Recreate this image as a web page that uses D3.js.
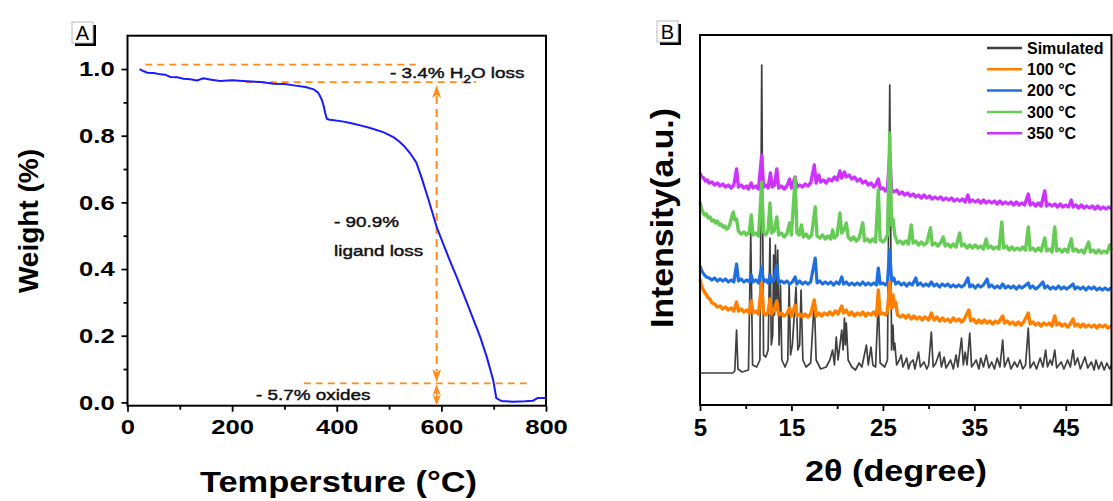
<!DOCTYPE html>
<html>
<head>
<meta charset="utf-8">
<script src="https://cdn.jsdelivr.net/npm/d3@7"></script>
<style>
body { margin: 0; background: #fff; }
text { font-family: Arial, "Liberation Sans", sans-serif; }
</style>
</head>
<body>
<svg id="chart" width="1113" height="501"></svg>
<script>
// ---- panel A : TGA ----
var tgaTemp = [23, 30, 38, 50, 63, 72, 82, 95, 107, 120, 133, 145, 160, 177, 200, 228, 255, 279, 300, 318, 340, 356, 364, 368, 372, 375, 378, 381, 386, 391, 410, 426, 445, 464, 490, 509, 520, 528, 540, 552, 562, 575, 591, 603, 616, 629, 642, 658, 674, 687, 699, 705, 715, 737, 760, 775, 784, 800];
var tgaWeight = [1.0, 0.994, 0.989, 0.988, 0.984, 0.983, 0.976, 0.975, 0.971, 0.969, 0.966, 0.972, 0.968, 0.964, 0.966, 0.963, 0.961, 0.956, 0.955, 0.951, 0.946, 0.939, 0.93, 0.919, 0.905, 0.889, 0.868, 0.851, 0.848, 0.847, 0.843, 0.838, 0.831, 0.823, 0.81, 0.795, 0.782, 0.77, 0.748, 0.72, 0.675, 0.61, 0.526, 0.478, 0.426, 0.377, 0.326, 0.262, 0.197, 0.135, 0.067, 0.013, 0.004, 0.002, 0.003, 0.005, 0.013, 0.013];
var tempTicks = [0, 200, 400, 600, 800];
var tempMinor = [100, 300, 500, 700];
var weightTicks = [0.0, 0.2, 0.4, 0.6, 0.8, 1.0];
var weightMinor = [0.1, 0.3, 0.5, 0.7, 0.9];
// annotation levels (weight) and arrow temperature
var lossLevels = [1.013, 0.961, 0.057];
var lossFrom = [34, 226, 337];
var lossTo = [551, 666, 771];
var arrowTemp = 591;

// ---- panel B : XRD ----
var thetaTicks = [5, 15, 25, 35, 45];
var thetaMinor = [10, 20, 30, 40];
var xrdNames = ["Simulated", "100 °C", "200 °C", "300 °C", "350 °C"];

var simulated = [[5,32],[8.6,32],[8.8,34],[9.0,75],[9.15,36],[9.6,33],[10.3,35],[10.55,172],[10.75,40],[11.2,38],[11.55,45],[11.75,340],[11.95,50],[12.2,48],[12.45,55],[12.65,167],[12.8,60],[12.95,70],[13.05,150],[13.15,90],[13.25,160],[13.35,95],[13.5,155],[13.65,60],[13.8,120],[13.95,45],[14.3,38],[14.6,45],[14.75,122],[14.9,50],[15.1,60],[15.5,118],[15.7,55],[15.9,60],[16.05,115],[16.25,45],[16.6,38],[17.1,42],[17.5,105],[17.7,45],[18.2,36],[18.8,38],[19.2,45],[19.5,55],[19.7,40],[19.9,68],[20.1,45],[20.3,60],[20.5,75],[20.65,55],[20.8,87],[20.9,60],[21.0,82],[21.2,45],[21.6,38],[22.0,35],[22.4,42],[22.7,38],[23.2,60],[23.4,40],[23.7,58],[23.9,40],[24.2,38],[24.5,105],[24.7,42],[25.2,38],[25.5,45],[25.75,320],[25.95,55],[26.1,80],[26.2,55],[26.3,62],[26.5,40],[26.8,45],[27.0,50],[27.2,38],[27.6,47],[27.8,36],[28.0,42],[28.3,45],[28.5,36],[28.9,53],[29.1,38],[29.5,43],[29.8,36],[30.0,40],[30.3,73],[30.5,38],[30.8,42],[31.2,53],[31.4,38],[31.7,48],[31.9,37],[32.1,40],[32.4,45],[32.7,36],[33.0,50],[33.2,38],[33.6,67],[33.8,40],[34.0,53],[34.2,40],[34.5,72],[34.7,38],[35.0,42],[35.2,45],[35.5,36],[35.7,47],[36.0,38],[36.3,50],[36.6,37],[36.9,43],[37.2,36],[37.5,47],[37.8,38],[38.1,65],[38.3,38],[38.7,47],[39.0,36],[39.4,43],[39.7,38],[40.0,45],[40.3,36],[40.6,40],[40.9,77],[41.1,37],[41.5,43],[41.8,36],[42.2,47],[42.5,38],[42.8,55],[43.0,38],[43.3,45],[43.5,40],[43.8,55],[44.0,37],[44.5,43],[44.8,36],[45.2,45],[45.5,38],[45.8,55],[46.0,40],[46.3,47],[46.6,36],[47.1,48],[47.4,37],[47.8,43],[48.1,35],[48.3,45],[48.6,36],[48.9,43],[49.2,35],[49.5,42],[49.8,36],[50,40]];

var xrd100 = [[5,126],[5.15,120],[5.3,116],[5.5,113],[5.7,110],[5.9,107],[6.1,106],[6.3,102],[6.6,101],[6.9,98],[7.2,99],[7.5,96],[7.8,98],[8.1,95],[8.4,97],[8.7,94],[9.0,103],[9.2,94],[9.5,96],[9.8,93],[10.1,95],[10.4,92],[10.6,104],[10.8,92],[11.1,94],[11.4,91],[11.75,122],[11.95,92],[12.2,90],[12.45,93],[12.65,106],[12.85,91],[13.1,95],[13.4,104],[13.6,90],[13.9,92],[14.2,89],[14.5,91],[14.8,97],[15.0,89],[15.4,100],[15.6,89],[15.9,91],[16.2,88],[16.5,91],[16.8,88],[17.1,91],[17.5,105],[17.7,89],[18.0,92],[18.3,89],[18.6,92],[18.9,90],[19.2,93],[19.5,90],[19.8,94],[20.1,91],[20.5,99],[20.7,92],[21.0,95],[21.3,90],[21.6,93],[21.9,89],[22.2,92],[22.5,90],[22.8,93],[23.1,89],[23.4,92],[23.7,90],[24.0,93],[24.3,89],[24.5,115],[24.7,91],[25.0,92],[25.3,90],[25.5,94],[25.75,123],[25.95,97],[26.1,110],[26.25,99],[26.4,103],[26.6,90],[26.9,88],[27.2,90],[27.5,87],[27.8,90],[28.1,86],[28.4,89],[28.7,86],[29.0,88],[29.3,85],[29.6,88],[30.0,85],[30.3,92],[30.6,85],[30.9,88],[31.2,84],[31.5,87],[31.8,84],[32.1,86],[32.4,83],[32.7,87],[33.0,84],[33.3,86],[33.6,83],[33.9,86],[34.4,95],[34.6,84],[34.9,86],[35.2,82],[35.5,85],[35.8,82],[36.1,85],[36.4,82],[36.7,84],[37.0,81],[37.3,84],[37.6,82],[38.1,89],[38.3,82],[38.6,84],[38.9,81],[39.2,83],[39.5,80],[39.8,83],[40.1,80],[40.4,83],[40.9,92],[41.1,81],[41.4,83],[41.7,80],[42.0,82],[42.3,79],[42.6,82],[42.9,80],[43.2,82],[43.5,79],[43.8,89],[44.0,80],[44.3,82],[44.6,79],[44.9,81],[45.2,78],[45.5,81],[45.8,86],[46.0,79],[46.3,81],[46.6,78],[46.9,81],[47.2,78],[47.5,80],[47.8,78],[48.1,80],[48.4,77],[48.7,80],[49.0,78],[49.3,80],[49.6,77],[50,79]];

var xrd200 = [[5,139],[5.2,134],[5.4,131],[5.7,128],[6.0,127],[6.3,125],[6.6,127],[6.9,124],[7.2,126],[7.5,124],[7.8,126],[8.1,123],[8.4,125],[8.7,123],[9.0,141],[9.2,124],[9.5,126],[9.8,123],[10.1,125],[10.4,123],[10.6,130],[10.8,123],[11.1,125],[11.4,122],[11.75,138],[11.95,123],[12.2,125],[12.45,122],[12.65,130],[12.85,123],[13.1,125],[13.4,140],[13.6,122],[13.9,124],[14.2,122],[14.5,124],[14.8,121],[15.1,123],[15.4,128],[15.6,121],[15.9,124],[16.2,121],[16.5,123],[16.8,121],[17.1,123],[17.6,147],[17.8,122],[18.1,124],[18.4,121],[18.7,123],[19.0,121],[19.3,123],[19.6,120],[19.9,123],[20.2,121],[20.5,128],[20.7,121],[21.0,123],[21.3,120],[21.6,122],[21.9,120],[22.2,122],[22.5,120],[22.8,123],[23.1,120],[23.4,122],[23.7,120],[24.0,122],[24.3,120],[24.5,137],[24.7,121],[25.0,122],[25.3,120],[25.5,123],[25.75,155],[25.95,124],[26.2,127],[26.4,121],[26.7,123],[27.0,120],[27.3,122],[27.6,119],[27.9,122],[28.2,120],[28.6,127],[28.8,120],[29.1,122],[29.4,119],[29.7,121],[30.0,119],[30.3,123],[30.6,119],[30.9,121],[31.2,118],[31.5,121],[31.8,119],[32.1,121],[32.4,118],[32.7,120],[33.0,118],[33.3,120],[33.6,118],[33.9,120],[34.3,127],[34.5,118],[34.8,120],[35.1,117],[35.4,120],[35.7,118],[36.0,120],[36.4,126],[36.6,118],[36.9,120],[37.2,117],[37.5,119],[37.8,117],[38.1,121],[38.4,117],[38.7,119],[39.0,117],[39.3,119],[39.6,116],[39.9,119],[40.2,117],[40.5,119],[40.9,122],[41.1,117],[41.4,119],[41.7,116],[42.0,118],[42.5,123],[42.7,117],[43.0,119],[43.3,116],[43.6,118],[43.9,116],[44.2,119],[44.5,116],[44.8,118],[45.1,116],[45.4,118],[45.8,121],[46.0,116],[46.3,118],[46.6,116],[46.9,118],[47.2,115],[47.5,118],[47.8,116],[48.1,118],[48.4,115],[48.7,117],[49.0,115],[49.3,117],[49.6,115],[50,117]];

var xrd300 = [[5,203],[5.15,197],[5.3,193],[5.5,190],[5.7,191],[5.9,187],[6.1,188],[6.3,184],[6.5,185],[6.7,182],[6.9,184],[7.1,180],[7.3,181],[7.5,178],[7.7,179],[7.9,176],[8.1,177],[8.3,182],[8.5,189],[8.65,193],[8.8,185],[9.0,186],[9.2,174],[9.5,171],[9.8,173],[10.1,170],[10.4,173],[10.6,190],[10.8,170],[11.1,172],[11.4,169],[11.75,223],[11.95,173],[12.2,170],[12.45,175],[12.65,202],[12.85,172],[13.1,174],[13.4,188],[13.6,170],[13.9,172],[14.2,168],[14.5,171],[14.8,182],[15.0,170],[15.4,227],[15.6,172],[15.85,170],[16.1,180],[16.3,168],[16.6,171],[16.9,167],[17.2,170],[17.6,198],[17.8,169],[18.1,167],[18.4,170],[18.7,166],[19.0,169],[19.3,166],[19.5,175],[19.7,167],[20.0,170],[20.3,192],[20.5,172],[20.8,176],[21.0,182],[21.2,168],[21.5,165],[21.8,168],[22.1,164],[22.4,167],[22.8,182],[23.0,164],[23.3,166],[23.6,163],[23.9,166],[24.2,163],[24.5,215],[24.7,165],[25.0,163],[25.3,166],[25.5,170],[25.75,272],[25.95,180],[26.1,186],[26.3,170],[26.6,162],[26.9,164],[27.2,161],[27.5,164],[27.8,161],[28.1,180],[28.3,162],[28.6,164],[28.9,160],[29.2,163],[29.5,160],[29.8,162],[30.2,177],[30.4,160],[30.7,162],[31.0,159],[31.3,162],[31.6,168],[31.8,159],[32.1,161],[32.4,158],[32.7,161],[33.0,158],[33.4,172],[33.6,159],[33.9,161],[34.2,157],[34.5,160],[34.8,157],[35.1,160],[35.4,157],[35.7,159],[36.0,156],[36.3,166],[36.5,157],[36.8,159],[37.1,156],[37.4,158],[37.7,156],[38.0,183],[38.2,157],[38.5,159],[38.8,155],[39.1,158],[39.4,155],[39.7,157],[40.0,155],[40.3,158],[40.6,155],[40.9,178],[41.1,155],[41.4,157],[41.7,154],[42.0,157],[42.3,154],[42.7,167],[42.9,154],[43.2,156],[43.5,153],[43.8,178],[44.0,154],[44.3,156],[44.6,153],[44.9,156],[45.2,153],[45.6,166],[45.8,154],[46.1,156],[46.4,153],[46.7,155],[47.0,152],[47.5,163],[47.7,153],[48.0,155],[48.3,152],[48.6,155],[48.9,152],[49.2,154],[49.5,152],[49.8,160],[50,155]];

var xrd350 = [[5,232],[5.2,228],[5.4,227],[5.6,224],[5.8,225],[6.0,222],[6.3,223],[6.6,220],[6.9,222],[7.2,219],[7.5,221],[7.8,218],[8.1,220],[8.4,217],[8.7,220],[9.0,236],[9.2,218],[9.5,220],[9.8,217],[10.1,219],[10.3,216],[10.6,222],[10.8,217],[11.1,219],[11.4,216],[11.75,250],[11.95,218],[12.2,220],[12.45,217],[12.7,232],[12.9,218],[13.15,220],[13.4,236],[13.6,217],[13.9,219],[14.2,216],[14.5,219],[14.8,226],[15.0,217],[15.4,228],[15.6,218],[15.9,220],[16.2,218],[16.5,221],[16.8,219],[17.1,222],[17.5,240],[17.7,222],[18.0,230],[18.2,223],[18.5,225],[18.8,222],[19.1,226],[19.4,224],[19.7,228],[20.0,225],[20.3,234],[20.5,227],[20.8,233],[21.0,228],[21.3,230],[21.6,226],[21.9,228],[22.2,224],[22.5,226],[22.8,222],[23.1,224],[23.4,220],[23.7,222],[24.0,218],[24.2,220],[24.5,226],[24.7,216],[25.0,217],[25.3,214],[25.5,216],[25.75,250],[25.95,215],[26.2,213],[26.5,215],[26.8,211],[27.1,213],[27.4,210],[27.7,212],[28.0,209],[28.3,211],[28.6,208],[28.9,210],[29.2,207],[29.5,210],[29.8,207],[30.1,209],[30.4,206],[30.7,208],[31.0,206],[31.3,208],[31.6,205],[31.9,207],[32.2,205],[32.5,207],[32.8,204],[33.1,206],[33.4,204],[33.7,206],[34.0,203],[34.3,210],[34.5,203],[34.8,205],[35.1,203],[35.4,205],[35.7,202],[36.0,205],[36.3,202],[36.6,204],[36.9,202],[37.2,204],[37.5,201],[37.8,204],[38.1,201],[38.4,203],[38.7,201],[39.0,203],[39.3,200],[39.6,203],[39.9,200],[40.2,202],[40.5,200],[40.9,211],[41.1,200],[41.4,202],[41.7,199],[42.0,202],[42.3,199],[42.7,214],[42.9,199],[43.2,201],[43.5,199],[43.8,201],[44.1,198],[44.4,201],[44.7,198],[45.0,200],[45.3,198],[45.6,205],[45.8,198],[46.1,200],[46.4,197],[46.7,200],[47.0,197],[47.3,199],[47.6,197],[47.9,199],[48.2,196],[48.5,199],[48.8,196],[49.1,198],[49.4,196],[49.7,198],[50,196]];

var xrdSeries = [simulated, xrd100, xrd200, xrd300, xrd350];
var xrdColors = ["#404040", "#ff7f00", "#1f6fe0", "#66cc55", "#cc33ff"];
var xrdWidths = [1.7, 3.4, 3.2, 3.4, 3.4];

var svg = d3.select("#chart");
var orange = "#ff8c1a";

// label box with shadow, like Origin's panel letters
function panelLabel(x, y, letter) {
    svg.append("rect").attr("x", x + 3).attr("y", y + 3).attr("width", 21).attr("height", 21).attr("fill", "#000");
    svg.append("rect").attr("x", x).attr("y", y).attr("width", 21).attr("height", 21)
        .attr("fill", "#fff").attr("stroke", "#bbb").attr("stroke-width", 1);
    svg.append("text").attr("x", x + 10.5).attr("y", y + 18).attr("text-anchor", "middle")
        .style("font-size", "20px").text(letter);
}

// ================= panel A =================
var xA = d3.scaleLinear().domain([0, 800]).range([127.5, 546]);
var yA = d3.scaleLinear().domain([-0.01, 1.1]).range([405.7, 35.7]);

var gA = svg.append("g");

// minor ticks
gA.append("g").attr("transform", "translate(0," + yA.range()[0] + ")")
    .call(d3.axisBottom(xA).tickValues(tempMinor).tickSize(4).tickFormat(""))
    .call(g => g.select(".domain").remove());
gA.append("g").attr("transform", "translate(" + xA.range()[0] + ",0)")
    .call(d3.axisLeft(yA).tickValues(weightMinor).tickSize(4).tickFormat(""))
    .call(g => g.select(".domain").remove());

// major ticks
var axA_x = gA.append("g").attr("transform", "translate(0," + yA.range()[0] + ")")
    .call(d3.axisBottom(xA).tickValues(tempTicks).tickSize(6).tickPadding(7.5));
var axA_y = gA.append("g").attr("transform", "translate(" + xA.range()[0] + ",0)")
    .call(d3.axisLeft(yA).tickValues(weightTicks).tickSize(6).tickPadding(4.5).tickFormat(d3.format(".1f")));
[axA_x, axA_y].forEach(function (ax) {
    ax.select(".domain").remove();
    ax.selectAll("text").style("font-size", "21px").style("font-weight", "bold")
        .attr("fill", "#000").attr("transform", "scale(1.22,1)");
});
gA.selectAll(".tick line").attr("stroke", "#000").attr("stroke-width", 1.8);

// frame
gA.append("rect")
    .attr("x", xA.range()[0]).attr("y", yA.range()[1])
    .attr("width", xA.range()[1] - xA.range()[0]).attr("height", yA.range()[0] - yA.range()[1])
    .attr("fill", "none").attr("stroke", "#000").attr("stroke-width", 2);

// dashed reference lines
lossLevels.forEach(function (w, i) {
    gA.append("line")
        .attr("x1", xA(lossFrom[i])).attr("x2", xA(lossTo[i]))
        .attr("y1", yA(w)).attr("y2", yA(w))
        .attr("stroke", orange).attr("stroke-width", 1.8).attr("stroke-dasharray", "7,5");
});

// vertical double arrow
var ax0 = xA(arrowTemp);
gA.append("line")
    .attr("x1", ax0).attr("x2", ax0)
    .attr("y1", yA(lossLevels[1]) + 14).attr("y2", yA(lossLevels[2]) - 12)
    .attr("stroke", orange).attr("stroke-width", 2).attr("stroke-dasharray", "8,5");
function head(x, tipY, dir, len, half) {
    gA.append("path")
        .attr("d", "M" + x + "," + tipY + "L" + (x - half) + "," + (tipY + dir * len) +
            "L" + x + "," + (tipY + dir * len * 0.75) + "L" + (x + half) + "," + (tipY + dir * len) + "Z")
        .attr("fill", orange);
}
head(ax0, yA(lossLevels[1]) + 3, 1, 13, 4.5);
head(ax0, yA(lossLevels[2]) - 1, -1, 13, 4.5);
// small arrow under the oxide line
gA.append("line").attr("x1", ax0).attr("x2", ax0)
    .attr("y1", yA(lossLevels[2]) + 6).attr("y2", yA(-0.01) - 6)
    .attr("stroke", orange).attr("stroke-width", 1.5);
head(ax0, yA(lossLevels[2]) + 1, 1, 11, 4);
head(ax0, yA(-0.01), -1, 11, 4);

// TGA curve
var lineA = d3.line().x(function (d) { return xA(d[0]); }).y(function (d) { return yA(d[1]); });
gA.append("path")
    .datum(tgaTemp.map(function (t, i) { return [t, tgaWeight[i]]; }))
    .attr("d", lineA).attr("fill", "none").attr("stroke", "#1a1aff").attr("stroke-width", 2);

// annotations
function note(x, y, str) {
    return gA.append("text").attr("transform", "translate(" + x + "," + y + ") scale(1.22,1)")
        .style("font-size", "15.5px").attr("fill", "#111")
        .attr("stroke", "#111").attr("stroke-width", 0.45).text(str);
}
var h2o = note(390, 78, "- 3.4% H");
h2o.append("tspan").attr("dy", 5).style("font-size", "11px").text("2");
h2o.append("tspan").attr("dy", -5).text("O loss");
note(334, 227, "- 90.9%");
note(334, 256, "ligand loss");
note(256, 400, "- 5.7% oxides");

// axis titles
svg.append("text").attr("x", 338.5).attr("y", 491.5).attr("text-anchor", "middle")
    .attr("textLength", 277).attr("lengthAdjust", "spacingAndGlyphs")
    .style("font-size", "29px").style("font-weight", "bold").text("Tempersture (°C)");
svg.append("text").attr("transform", "translate(38,221) rotate(-90)").attr("text-anchor", "middle")
    .style("font-size", "28px").style("font-weight", "bold").text("Weight (%)");

panelLabel(72, 22, "A");

// ================= panel B =================
var xB = d3.scaleLinear().domain([5, 50]).range([700, 1111.5]);
var yB = d3.scaleLinear().domain([0, 370]).range([405, 35]);

var gB = svg.append("g");

gB.append("g").attr("transform", "translate(0," + yB.range()[0] + ")")
    .call(d3.axisBottom(xB).tickValues(thetaMinor).tickSize(4).tickFormat(""))
    .call(g => g.select(".domain").remove());
var axB_x = gB.append("g").attr("transform", "translate(0," + yB.range()[0] + ")")
    .call(d3.axisBottom(xB).tickValues(thetaTicks).tickSize(6).tickPadding(8));
axB_x.select(".domain").remove();
axB_x.selectAll("text").style("font-size", "24px").style("font-weight", "bold").attr("fill", "#000");
gB.selectAll(".tick line").attr("stroke", "#000").attr("stroke-width", 1.8);

// patterns
var lineB = d3.line().x(function (d) { return xB(d[0]); }).y(function (d) { return yB(d[1]); });
[0, 4, 3, 2, 1].forEach(function (i) {
    gB.append("path").datum(xrdSeries[i]).attr("d", lineB)
        .attr("fill", "none").attr("stroke", xrdColors[i]).attr("stroke-width", xrdWidths[i])
        .attr("stroke-linejoin", "round");
});

gB.append("rect")
    .attr("x", xB.range()[0]).attr("y", yB.range()[1])
    .attr("width", xB.range()[1] - xB.range()[0]).attr("height", yB.range()[0] - yB.range()[1])
    .attr("fill", "none").attr("stroke", "#000").attr("stroke-width", 2);

// legend
var legend = gB.append("g").attr("transform", "translate(987,48)");
legend.selectAll("line").data(xrdNames).enter().append("line")
    .attr("x1", 0).attr("x2", 35)
    .attr("y1", function (d, i) { return i * 21.3; }).attr("y2", function (d, i) { return i * 21.3; })
    .attr("stroke", function (d, i) { return xrdColors[i]; }).attr("stroke-width", 2.5);
legend.selectAll("text").data(xrdNames).enter().append("text")
    .attr("x", 40).attr("y", function (d, i) { return i * 21.3; }).attr("dy", "0.36em")
    .style("font-size", "16px").style("font-weight", "bold").text(function (d) { return d; });

svg.append("text").attr("x", 896).attr("y", 481).attr("text-anchor", "middle")
    .attr("textLength", 182).attr("lengthAdjust", "spacingAndGlyphs")
    .style("font-size", "30px").style("font-weight", "bold").text("2θ (degree)");
svg.append("text").attr("transform", "translate(673,218) rotate(-90)").attr("text-anchor", "middle")
    .attr("textLength", 220).attr("lengthAdjust", "spacingAndGlyphs")
    .style("font-size", "32px").style("font-weight", "bold").text("Intensity(a.u.)");

panelLabel(657, 21, "B");
</script>
</body>
</html>
